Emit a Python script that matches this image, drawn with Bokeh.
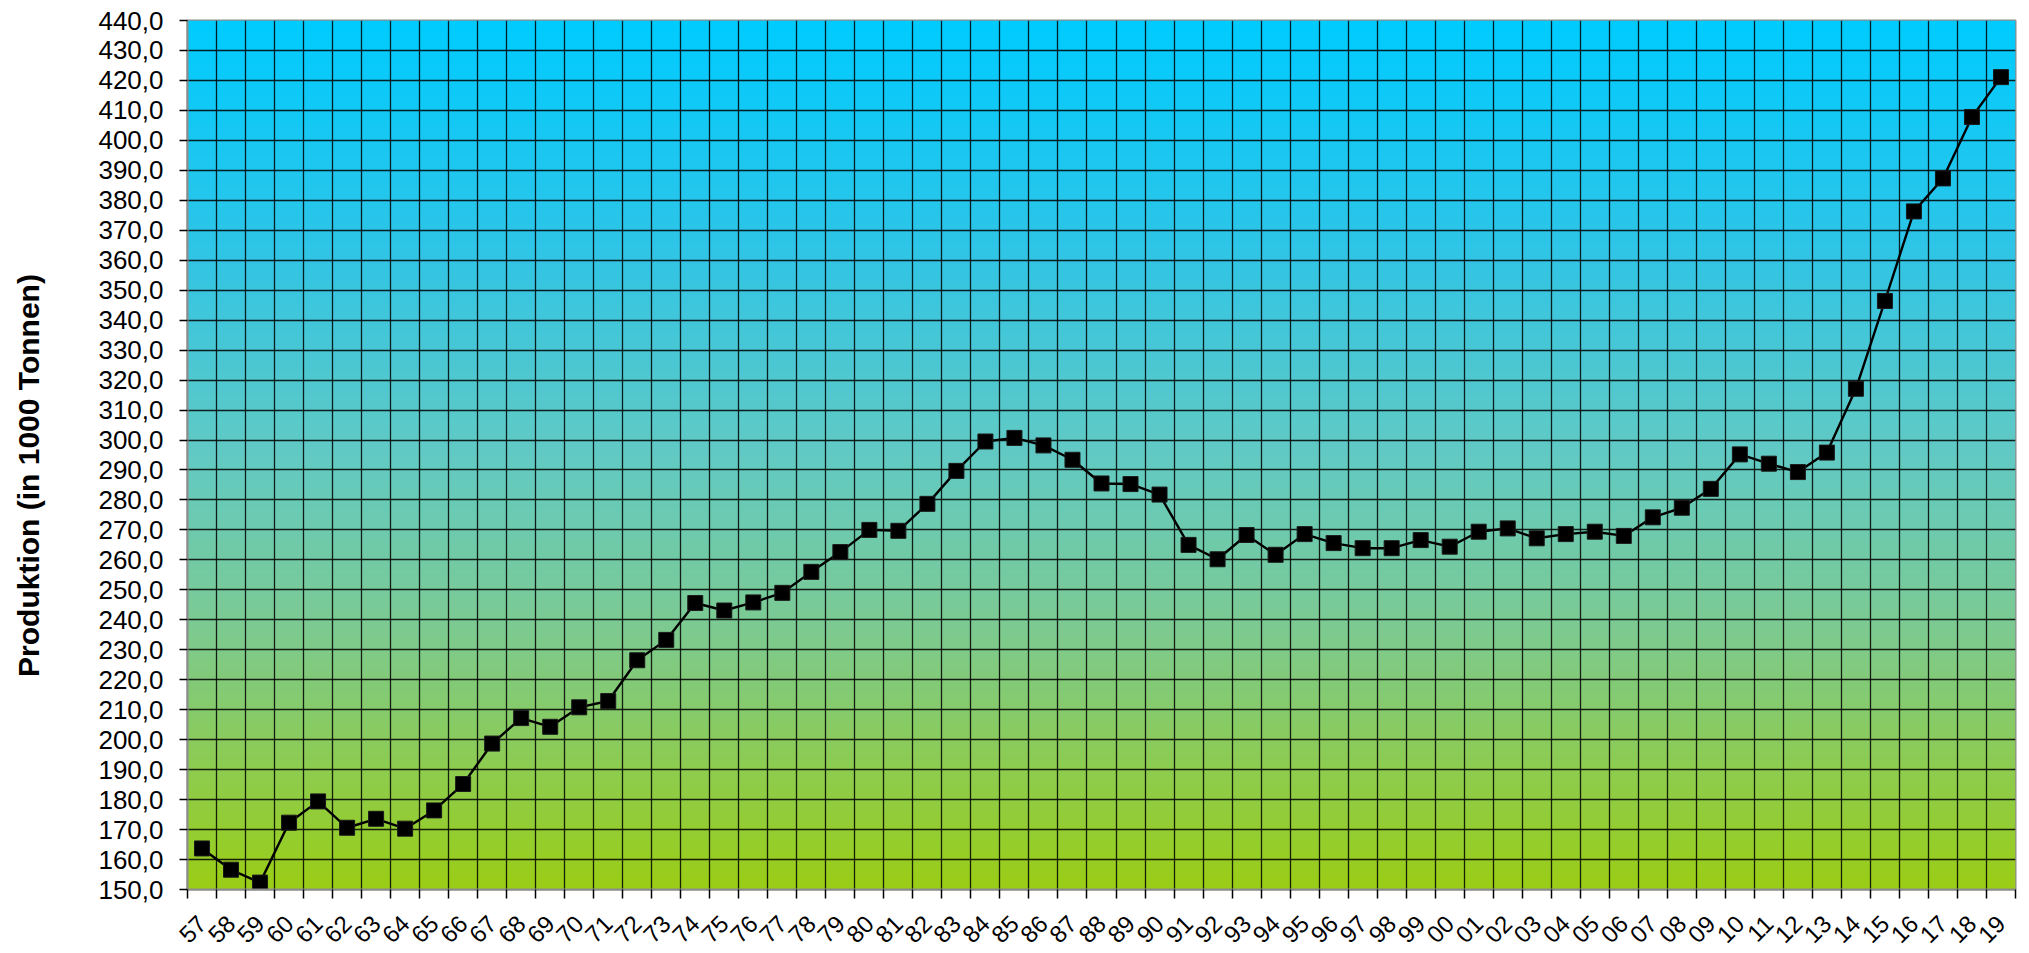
import numpy as np
from bokeh.plotting import figure
from bokeh.layouts import row
from bokeh.models import Range1d, FixedTicker
from bokeh.core.properties import value
from bokeh.embed import file_html
from bokeh.resources import INLINE

years = ["57", "58", "59", "60", "61", "62", "63", "64", "65", "66", "67", "68", "69",
         "70", "71", "72", "73", "74", "75", "76", "77", "78", "79", "80", "81", "82",
         "83", "84", "85", "86", "87", "88", "89", "90", "91", "92", "93", "94", "95",
         "96", "97", "98", "99", "00", "01", "02", "03", "04", "05", "06", "07", "08",
         "09", "10", "11", "12", "13", "14", "15", "16", "17", "18", "19"]
production = [163.7, 156.6, 152.3, 172.3, 179.4, 170.6, 173.6, 170.3, 176.4, 185.2,
              198.7, 207.2, 204.3, 210.8, 212.9, 226.5, 233.3, 245.6, 243.1, 245.8,
              249.0, 256.0, 262.6, 270.0, 269.7, 278.7, 289.7, 299.5, 300.7, 298.2,
              293.4, 285.5, 285.3, 281.8, 265.0, 260.2, 268.3, 261.7, 268.6, 265.6,
              263.9, 263.9, 266.6, 264.4, 269.4, 270.5, 267.2, 268.6, 269.4, 268.0,
              274.2, 277.4, 283.7, 295.2, 292.1, 289.3, 295.8, 317.1, 346.4, 376.3,
              387.3, 407.8, 421.1]
y_ticks = list(range(150, 441, 10))
y_tick_labels = [f"{v:.1f}".replace(".", ",") for v in y_ticks]
y_title = "Produktion (in 1000 Tonnen)"

n = len(years)
xs = list(range(n))
x_lo, x_hi = -0.5, n - 0.5
y_lo, y_hi = y_ticks[0], y_ticks[-1]

FONT = "Liberation Sans"
H = 953
TW = 60  # width of the strip holding the rotated y-axis title

# ---- narrow strip with the rotated axis title ----
t_fig = figure(width=TW, height=H, output_backend="svg", toolbar_location=None,
               x_range=Range1d(0, TW), y_range=Range1d(0, H),
               min_border=0)
t_fig.axis.visible = False
t_fig.grid.visible = False
t_fig.outline_line_color = None
t_fig.background_fill_color = "white"
t_fig.border_fill_color = "white"
t_fig.text(x=[28], y=[H - 499], text=[y_title], angle=np.pi / 2,
           text_align="center", text_baseline="middle",
           text_font=value(FONT), text_font_style="bold", text_font_size="30px",
           text_color="black")

# ---- main chart ----
p = figure(width=2021 - TW, height=H, output_backend="svg", toolbar_location=None,
           x_range=Range1d(x_lo, x_hi), y_range=Range1d(y_lo, y_hi),
           min_border_left=187 - TW, min_border_right=6, min_border_top=20,
           min_border_bottom=63)
p.background_fill_color = "white"
p.border_fill_color = "white"
p.outline_line_color = "#8c8c8c"
p.outline_line_width = 2

# vertical gradient background
stops_t = [0.0, 0.25, 0.5, 0.7, 0.85, 1.0]
stops_c = [(0, 204, 255), (45, 197, 232), (98, 202, 196), (125, 202, 145),
           (140, 204, 85), (155, 206, 22)]
N = 400
t = np.linspace(1.0, 0.0, N)  # row 0 = bottom
img = np.zeros((N, 1), dtype=np.uint32)
view = img.view(dtype=np.uint8).reshape((N, 1, 4))
for ch in range(3):
    view[:, 0, ch] = np.interp(t, stops_t, [c[ch] for c in stops_c]).astype(np.uint8)
view[:, 0, 3] = 255
p.image_rgba(image=[img], x=x_lo, y=y_lo, dw=x_hi - x_lo, dh=y_hi - y_lo, level="image")

# grid
p.xgrid.ticker = FixedTicker(ticks=[i - 0.5 for i in range(n + 1)])
p.ygrid.ticker = FixedTicker(ticks=y_ticks)
for g in (p.xgrid[0], p.ygrid[0]):
    g.grid_line_color = "black"
    g.grid_line_width = 1.3
    g.grid_line_alpha = 0.85
    g.level = "underlay"

# x axis
xa = p.xaxis[0]
xa.ticker = FixedTicker(ticks=xs, minor_ticks=[i - 0.5 for i in range(n + 1)])
xa.major_label_overrides = {i: years[i] for i in xs}
xa.major_tick_out = 0
xa.major_tick_in = 0
xa.minor_tick_out = 9
xa.minor_tick_in = 0
xa.minor_tick_line_color = "black"
xa.minor_tick_line_width = 1.5
xa.major_label_orientation = np.pi / 4
xa.major_label_text_font = FONT
xa.major_label_text_font_size = "24px"
xa.major_label_text_color = "black"
xa.major_label_standoff = 21
xa.axis_line_color = "#8c8c8c"
xa.axis_line_width = 2

# y axis
ya = p.yaxis[0]
ya.ticker = FixedTicker(ticks=y_ticks)
ya.major_label_overrides = {v: s for v, s in zip(y_ticks, y_tick_labels)}
ya.major_tick_out = 8
ya.major_tick_in = 0
ya.major_tick_line_color = "black"
ya.major_tick_line_width = 1.5
ya.minor_tick_out = 0
ya.minor_tick_in = 0
ya.major_label_text_font = FONT
ya.major_label_text_font_size = "26px"
ya.major_label_text_color = "black"
ya.major_label_standoff = 16
ya.axis_line_color = "#8c8c8c"
ya.axis_line_width = 2

# data
p.line(xs, production, line_color="black", line_width=2.4)
p.scatter(xs, production, marker="square", size=15, fill_color="black",
          line_color="#1a1a1a", line_width=1)

layout = row(t_fig, p, spacing=0)
open("out.html", "w").write(file_html(layout, INLINE))
